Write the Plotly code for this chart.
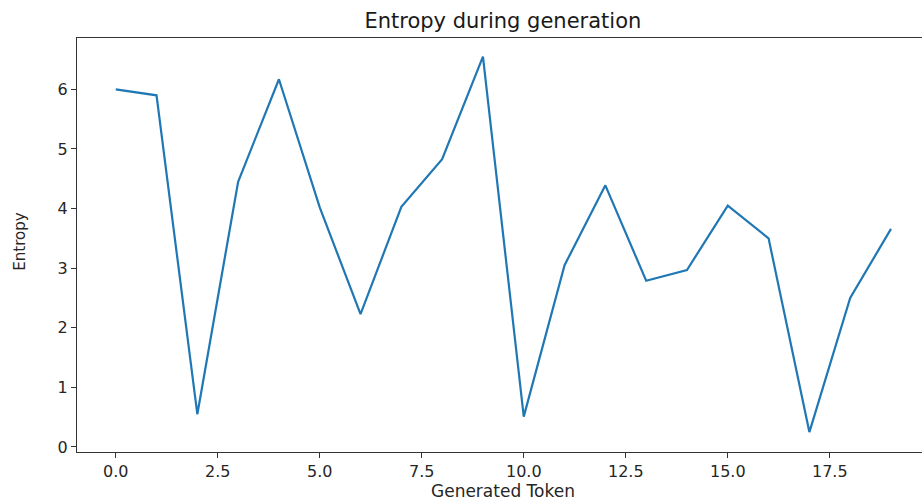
import plotly.graph_objects as go

tokens = list(range(20))
entropy = [6.00, 5.90, 0.55, 4.45, 6.17, 4.02, 2.23, 4.03, 4.83, 6.55,
           0.51, 3.05, 4.39, 2.79, 2.97, 4.05, 3.50, 0.25, 2.50, 3.66]
x_ticks = [0, 2.5, 5, 7.5, 10, 12.5, 15, 17.5]
x_tick_labels = ["0.0", "2.5", "5.0", "7.5", "10.0", "12.5", "15.0", "17.5"]
y_ticks = [0, 1, 2, 3, 4, 5, 6]

FONT = "DejaVu Sans"
fig = go.Figure()
fig.add_trace(go.Scatter(x=tokens, y=entropy, mode="lines",
                         line=dict(color="#1f77b4", width=2.2)))

fig.update_layout(
    width=922, height=502,
    margin=dict(l=77, r=0, t=38, b=50),
    paper_bgcolor="white", plot_bgcolor="white",
    showlegend=False,
    font=dict(family=FONT, color="#262626"),
    title=dict(text="Entropy during generation", x=0.504, xref="paper", xanchor="center",
               y=1 - 21 / 502, yanchor="middle", font=dict(size=21, family=FONT, color="#1a1a1a")),
    xaxis=dict(range=[-0.949, 19.76], tickvals=x_ticks, ticktext=x_tick_labels,
               showgrid=False, zeroline=False, showline=True, mirror=True,
               linecolor="#333333", linewidth=1.3, ticks="outside", ticklen=5,
               tickcolor="#333333", tickfont=dict(size=16, family=FONT, color="#262626"),
               automargin=False),
    yaxis=dict(range=[-0.084, 6.862], tickvals=y_ticks,
               showgrid=False, zeroline=False, showline=True, mirror=False,
               linecolor="#333333", linewidth=1.3, ticks="outside", ticklen=5,
               tickcolor="#333333", tickfont=dict(size=16, family=FONT, color="#262626"),
               automargin=False),
    annotations=[
        dict(text="Generated Token", xref="paper", yref="paper", x=0.504, y=-0.093,
             xanchor="center", yanchor="middle", showarrow=False,
             font=dict(size=17, family=FONT, color="#262626")),
        dict(text="Entropy", xref="paper", yref="paper", x=-0.0675, y=0.508,
             xanchor="center", yanchor="middle", showarrow=False, textangle=-90,
             font=dict(size=15, family=FONT, color="#262626")),
    ],
)

fig.write_html("out.html")
